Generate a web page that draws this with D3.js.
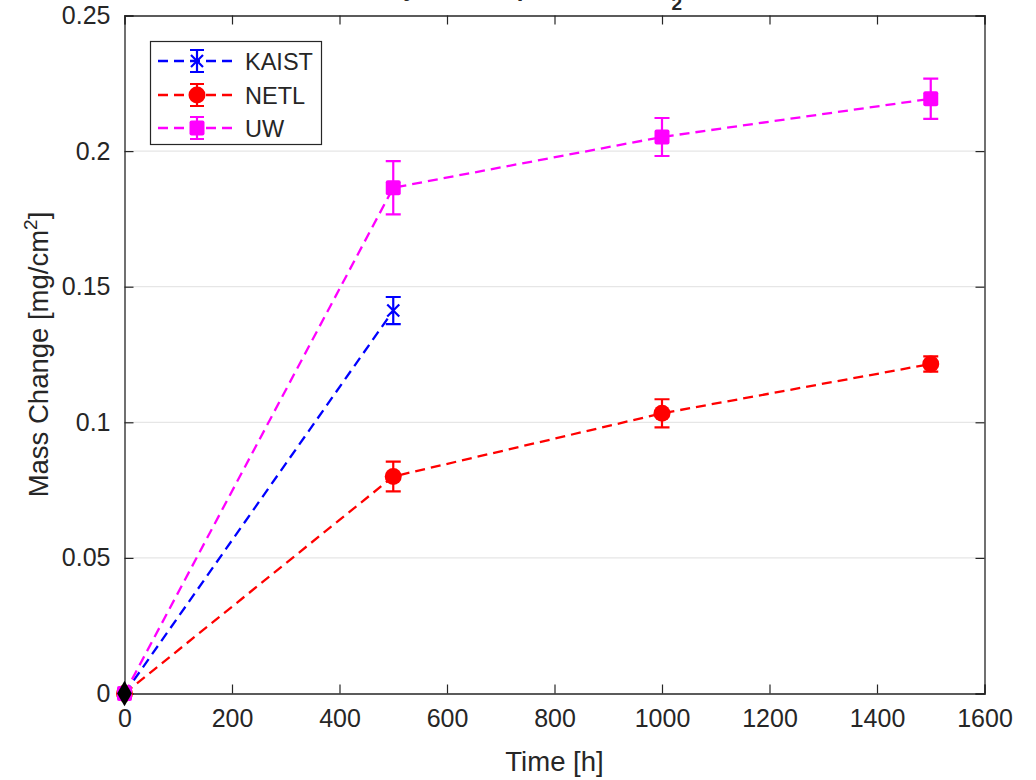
<!DOCTYPE html>
<html><head><meta charset="utf-8">
<script src="https://cdn.jsdelivr.net/npm/d3@7"></script>
<style>body{margin:0;background:#fff;} svg{display:block;} text{font-family:"Liberation Sans",Arial,sans-serif;fill:#262626;}</style>
</head><body>
<svg id="c" width="1036" height="780"></svg>
<script>
const xTicks = [0,200,400,600,800,1000,1200,1400,1600];
const yTicks = [0,0.05,0.1,0.15,0.2,0.25];
const yTickLabels = ["0","0.05","0.1","0.15","0.2","0.25"];
const seriesNames = ["KAIST","NETL","UW"];
const kaistTime = [0,500];
const kaistMass = [0,0.1412];
const kaistErr  = [0,0.0050];
const netlTime = [0,500,1000,1500];
const netlMass = [0,0.0800,0.1033,0.1215];
const netlErr  = [0,0.0055,0.0052,0.0028];
const uwTime = [0,500,1000,1500];
const uwMass = [0,0.1865,0.2052,0.2193];
const uwErr  = [0,0.0098,0.0070,0.0074];

const svg = d3.select("#c");
const L=124.5, R=984.5, T=15.5, B=693.5;
const x = d3.scaleLinear().domain([0,1600]).range([L,R]);
const y = d3.scaleLinear().domain([0,0.25]).range([B,T]);
const axCol="#262626";

// title (mostly clipped above the view, as in the reference)
const title = svg.append("text").attr("x",682).attr("y",-4).attr("text-anchor","end")
  .style("font-weight","bold").style("font-size","24px").attr("fill","#000");
title.append("tspan").text("Alloy 740H Exposed in sCO");
title.append("tspan").attr("dy",14).style("font-size","19px").text("2");

// grid
svg.append("g").selectAll("line").data(yTicks.slice(1,-1)).join("line")
  .attr("x1",L).attr("x2",R).attr("y1",d=>y(d)).attr("y2",d=>y(d))
  .attr("stroke","#e6e6e6").attr("stroke-width",1.2);

// axes with inward ticks
const gx = svg.append("g").attr("transform",`translate(0,${B})`)
  .call(d3.axisBottom(x).tickValues(xTicks).tickSize(-9).tickPadding(16).tickFormat(d3.format("d")));
const gxt = svg.append("g").attr("transform",`translate(0,${T})`)
  .call(d3.axisTop(x).tickValues(xTicks).tickSize(-9).tickFormat(""));
const gy = svg.append("g").attr("transform",`translate(${L},0)`)
  .call(d3.axisLeft(y).tickValues(yTicks).tickSize(-9).tickPadding(14).tickFormat((d,i)=>yTickLabels[i]));
const gyr = svg.append("g").attr("transform",`translate(${R},0)`)
  .call(d3.axisRight(y).tickValues(yTicks).tickSize(-9).tickFormat(""));
[gx,gxt,gy,gyr].forEach(g=>{
  g.select(".domain").attr("stroke",axCol).attr("stroke-width",1.3);
  g.selectAll(".tick line").attr("stroke",axCol).attr("stroke-width",1.2);
  g.selectAll(".tick text").style("font-size","25px").attr("fill",axCol).style("font-family","'Liberation Sans',Arial,sans-serif");
});

// axis labels
svg.append("text").attr("x",(L+R)/2).attr("y",771).attr("text-anchor","middle").style("font-size","27.5px").text("Time [h]");
const yl = svg.append("text").attr("transform",`translate(48,${(T+B)/2}) rotate(-90)`).attr("text-anchor","middle").style("font-size","27.5px");
yl.append("tspan").text("Mass Change [mg/cm");
yl.append("tspan").attr("dy",-11).style("font-size","19px").text("2");
yl.append("tspan").attr("dy",11).text("]");

const series = [
  {name:seriesNames[0], t:kaistTime, m:kaistMass, e:kaistErr, color:"#0000ff", marker:"x"},
  {name:seriesNames[1], t:netlTime, m:netlMass, e:netlErr, color:"#ff0000", marker:"o"},
  {name:seriesNames[2], t:uwTime, m:uwMass, e:uwErr, color:"#ff00ff", marker:"s"},
];
const line = d3.line().x(d=>x(d[0])).y(d=>y(d[1]));

function drawMarker(g, type, cx, cy, color){
  if(type==="o") g.append("circle").attr("cx",cx).attr("cy",cy).attr("r",8.5).attr("fill",color);
  else if(type==="s") g.append("rect").attr("x",cx-7.5).attr("y",cy-7.5).attr("width",15).attr("height",15).attr("rx",2).attr("fill",color);
  else if(type==="x"){
    const s=6;
    g.append("path").attr("d",`M${cx-s},${cy-s}L${cx+s},${cy+s}M${cx-s},${cy+s}L${cx+s},${cy-s}`).attr("stroke",color).attr("stroke-width",2.2);
  }
}
function drawErr(g, cx, cy0, cy1, color, cap){
  g.append("path").attr("d",`M${cx},${cy0}L${cx},${cy1}M${cx-cap},${cy0}L${cx+cap},${cy0}M${cx-cap},${cy1}L${cx+cap},${cy1}`)
    .attr("stroke",color).attr("stroke-width",2.2).attr("fill","none");
}

const plot = svg.append("g");
series.forEach(s=>{
  const pts = s.t.map((t,i)=>[t,s.m[i],s.e[i]]);
  plot.append("path").attr("d",line(pts)).attr("fill","none").attr("stroke",s.color).attr("stroke-width",2.3).attr("stroke-dasharray","10,6");
  pts.forEach(p=>{
    if(p[2]>0) drawErr(plot, x(p[0]), y(p[1]+p[2]), y(p[1]-p[2]), s.color, 7.5);
    drawMarker(plot, s.marker, x(p[0]), y(p[1]), s.color);
  });
});
// black diamond marker at the origin
plot.append("path").attr("d",d3.symbol(d3.symbolDiamond,190)()).attr("transform",`translate(${x(0)},${y(0)})`).attr("fill","#000");

// legend
const lg = svg.append("g");
lg.append("rect").attr("x",150.5).attr("y",41.5).attr("width",171).attr("height",103).attr("fill","#fff").attr("stroke",axCol).attr("stroke-width",1.2);
const rowsY=[61,95,128];
series.forEach((s,i)=>{
  const cy=rowsY[i];
  lg.append("line").attr("x1",158).attr("x2",232).attr("y1",cy).attr("y2",cy).attr("stroke",s.color).attr("stroke-width",2.3).attr("stroke-dasharray","10,6");
  drawErr(lg, 197, cy-11, cy+11, s.color, 7);
  drawMarker(lg, s.marker, 197, cy, s.color);
  lg.append("text").attr("x",245).attr("y",cy+8.5).style("font-size","23.5px").attr("fill","#000").text(s.name);
});
</script>
</body></html>
